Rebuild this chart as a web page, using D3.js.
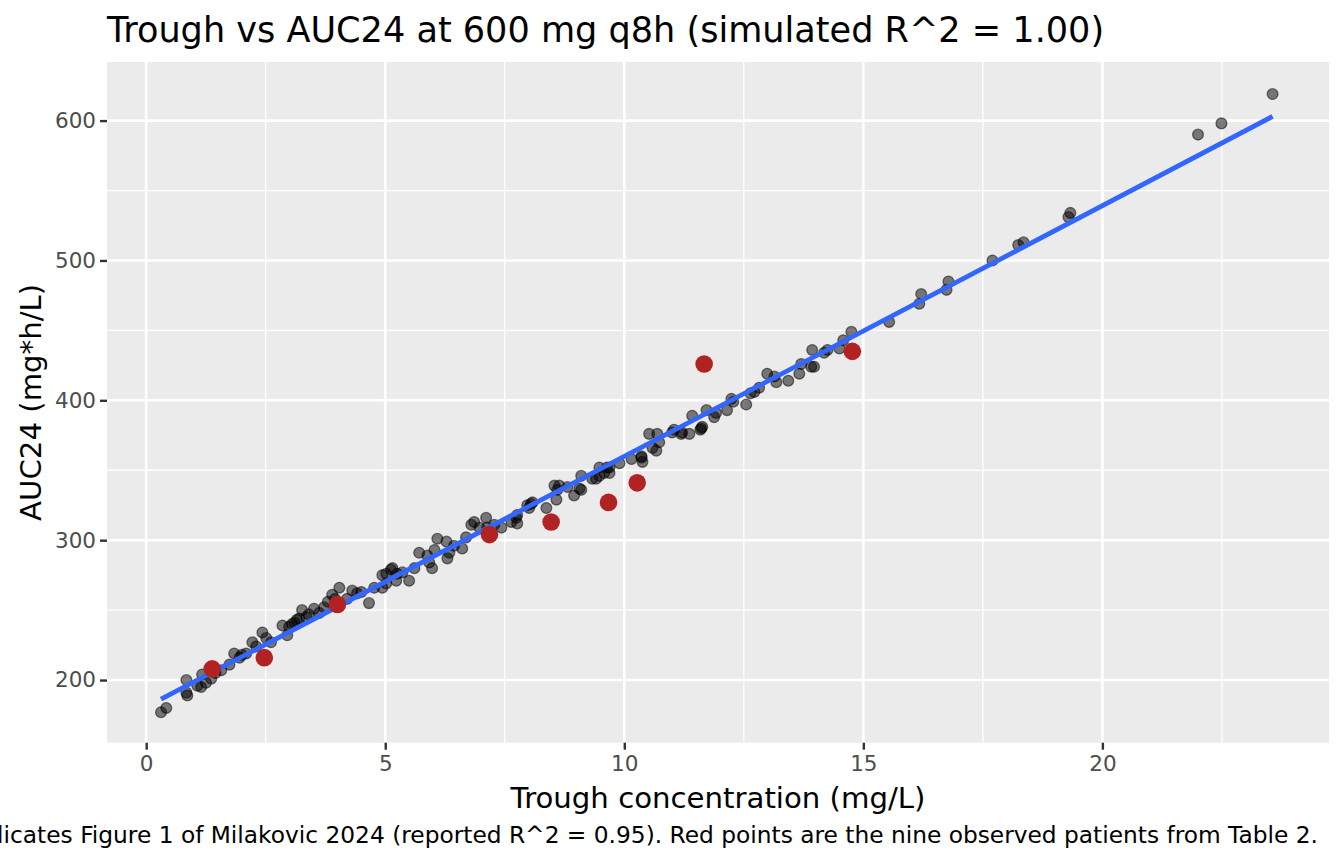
<!DOCTYPE html>
<html>
<head>
<meta charset="utf-8">
<script src="https://cdn.jsdelivr.net/npm/d3@7"></script>
<style>
  body { margin: 0; background: #fff; }
  svg { display: block; font-family: "DejaVu Sans", sans-serif; }
</style>
</head>
<body>
<svg id="chart" width="1344" height="864"></svg>
<script>
// Simulated patients: trough (mg/L) and AUC24 (mg*h/L)
const simTrough = [
  0.31, 0.42, 0.84, 0.84, 0.86, 1.07, 1.15, 1.17, 1.25, 1.36, 1.45, 1.57, 1.74, 1.84, 1.95, 2.0,
  2.09, 2.22, 2.3, 2.43, 2.51, 2.61, 2.85, 2.95, 2.99, 3.05, 3.1, 3.15, 3.2, 3.26, 3.35, 3.4,
  3.51, 3.62, 3.72, 3.8, 3.89, 3.95, 4.04, 4.2, 4.31, 4.41, 4.5, 4.66, 4.77, 4.94, 5.02, 4.94,
  5.02, 5.12, 5.15, 5.25, 5.36, 5.23, 5.5, 5.61, 5.71, 5.88, 5.92, 5.98, 6.03, 6.09, 6.28, 6.3,
  6.34, 6.44, 6.61, 6.69, 6.8, 6.86, 6.97, 7.11, 7.13, 7.28, 7.43, 7.64, 7.74, 7.76, 7.76, 7.97,
  8.05, 8.08, 8.01, 8.37, 8.54, 8.6, 8.64, 8.58, 8.81, 8.95, 9.06, 9.1, 9.1, 9.33, 9.41, 9.48,
  9.48, 9.58, 9.69, 9.69, 9.64, 9.9, 10.15, 10.36, 10.38, 10.36, 10.52, 10.69, 10.67, 10.73, 10.59, 11.0,
  11.04, 11.19, 11.21, 11.36, 11.42, 11.59, 11.61, 11.63, 11.72, 11.88, 11.92, 12.15, 12.24, 12.28, 12.55, 12.64,
  12.72, 12.82, 12.99, 13.14, 13.18, 13.43, 13.66, 13.7, 13.91, 13.97, 13.93, 14.18, 14.25, 14.5, 14.58, 14.75,
  15.54, 16.17, 16.21, 16.74, 16.78, 17.7, 18.24, 18.35, 19.29, 19.33, 22.0, 22.49, 23.56
];
const simAuc = [
  177, 180, 200, 191, 189, 196, 195, 204, 198, 201, 205, 207, 211, 219, 216, 218,
  219, 227, 224, 234, 230, 227, 239, 232, 238, 240, 241, 243, 244, 250, 245, 247,
  251, 248, 252, 256, 261, 258, 266, 258, 264, 262, 263, 255, 266, 275, 276, 266,
  269, 279, 280, 276, 277, 271, 271, 280, 291, 289, 284, 280, 293, 301, 299, 287,
  291, 296, 294, 302, 311, 313, 309, 316, 309, 311, 309, 313, 316, 312, 318, 325,
  326, 327, 323, 323, 339, 336, 339, 329, 338, 332, 337, 346, 336, 344, 344, 346,
  352, 348, 348, 352, 352, 355, 358, 360, 356, 359, 376, 376, 364, 370, 366, 377,
  379, 376, 377, 376, 389, 379, 380, 381, 393, 388, 391, 393, 401, 399, 397, 405,
  406, 409, 419, 417, 413, 414, 419, 426, 424, 424, 436, 434, 436, 437, 443, 449,
  456, 469, 476, 479, 485, 500, 511, 513, 531, 534, 590, 598, 619
];

// The nine observed patients (Table 2)
const obsTrough = [1.38, 2.47, 4.0, 7.18, 8.47, 9.67, 10.27, 11.67, 14.77];
const obsAuc = [208, 216, 254, 304, 313, 327, 341, 426, 435];

const xTicks = [0, 5, 10, 15, 20];
const yTicks = [200, 300, 400, 500, 600];
const xMinor = [2.5, 7.5, 12.5, 17.5, 22.5];
const yMinor = [250, 350, 450, 550];

const titleText = 'Trough vs AUC24 at 600 mg q8h (simulated R^2 = 1.00)';
const captionText = 'Replicates Figure 1 of Milakovic 2024 (reported R^2 = 0.95). Red points are the nine observed patients from Table 2.';

const svg = d3.select('#chart');

// Panel box
const panel = { left: 107, right: 1329, top: 62, bottom: 742.7 };

const x = d3.scaleLinear().domain([-0.82, 24.74]).range([panel.left, panel.right]);
const y = d3.scaleLinear().domain([155.2, 641.9]).range([panel.bottom, panel.top]);

svg.append('rect')
  .attr('x', panel.left)
  .attr('y', panel.top)
  .attr('width', panel.right - panel.left)
  .attr('height', panel.bottom - panel.top)
  .attr('fill', '#ebebeb');

// Grid lines
const grid = svg.append('g');
grid.selectAll('.vminor').data(xMinor).join('line')
  .attr('x1', x).attr('x2', x)
  .attr('y1', panel.top).attr('y2', panel.bottom)
  .attr('stroke', '#fff').attr('stroke-width', 1.3);
grid.selectAll('.hminor').data(yMinor).join('line')
  .attr('y1', y).attr('y2', y)
  .attr('x1', panel.left).attr('x2', panel.right)
  .attr('stroke', '#fff').attr('stroke-width', 1.3);
grid.selectAll('.vmajor').data(xTicks).join('line')
  .attr('x1', x).attr('x2', x)
  .attr('y1', panel.top).attr('y2', panel.bottom)
  .attr('stroke', '#fff').attr('stroke-width', 2.6);
grid.selectAll('.hmajor').data(yTicks).join('line')
  .attr('y1', y).attr('y2', y)
  .attr('x1', panel.left).attr('x2', panel.right)
  .attr('stroke', '#fff').attr('stroke-width', 2.6);

// Axes
const xAxis = svg.append('g')
  .attr('transform', `translate(0,${panel.bottom})`)
  .call(d3.axisBottom(x).tickValues(xTicks).tickSize(7).tickPadding(5).tickFormat(d3.format('d')));
const yAxis = svg.append('g')
  .attr('transform', `translate(${panel.left},0)`)
  .call(d3.axisLeft(y).tickValues(yTicks).tickSize(7).tickPadding(4).tickFormat(d3.format('d')));

[xAxis, yAxis].forEach(a => {
  a.select('.domain').remove();
  a.selectAll('.tick line').attr('stroke', '#333').attr('stroke-width', 2.4);
  a.selectAll('.tick text')
    .attr('fill', '#4d4d4d')
    .style('font-size', '21.5px')
    .style('font-family', '"DejaVu Sans", sans-serif');
});
xAxis.selectAll('.tick text').attr('dy', '0.78em');

// Simulated points
const sim = simTrough.map((t, i) => [t, simAuc[i]]);
svg.append('g').selectAll('circle')
  .data(sim)
  .join('circle')
  .attr('cx', d => x(d[0]))
  .attr('cy', d => y(d[1]))
  .attr('r', 5.4)
  .attr('fill', 'rgba(0,0,0,0.5)')
  .attr('stroke', 'rgba(0,0,0,0.5)')
  .attr('stroke-width', 1.3);

// Least-squares fit through the simulated points
const mx = d3.mean(sim, d => d[0]);
const my = d3.mean(sim, d => d[1]);
const slope = d3.sum(sim, d => (d[0] - mx) * (d[1] - my)) / d3.sum(sim, d => (d[0] - mx) ** 2);
const icpt = my - slope * mx;
const xr = d3.extent(simTrough);
const fit = xr.map(t => [t, icpt + slope * t]);

svg.append('path')
  .datum(fit)
  .attr('d', d3.line().x(d => x(d[0])).y(d => y(d[1])))
  .attr('fill', 'none')
  .attr('stroke', '#3366ff')
  .attr('stroke-width', 4.8);

// Observed points
svg.append('g').selectAll('circle')
  .data(obsTrough.map((t, i) => [t, obsAuc[i]]))
  .join('circle')
  .attr('cx', d => x(d[0]))
  .attr('cy', d => y(d[1]))
  .attr('r', 8.8)
  .attr('fill', '#b22222');

// Titles
svg.append('text')
  .attr('x', panel.left)
  .attr('y', 41.5)
  .style('font-size', '35.1px')
  .attr('fill', '#000')
  .text(titleText);

svg.append('text')
  .attr('x', (panel.left + panel.right) / 2)
  .attr('y', 808)
  .attr('text-anchor', 'middle')
  .style('font-size', '29.2px')
  .attr('fill', '#000')
  .text('Trough concentration (mg/L)');

svg.append('text')
  .attr('transform', `translate(41,${(panel.top + panel.bottom) / 2}) rotate(-90)`)
  .attr('text-anchor', 'middle')
  .style('font-size', '29.2px')
  .attr('fill', '#000')
  .text('AUC24 (mg*h/L)');

svg.append('text')
  .attr('x', 1318)
  .attr('y', 843)
  .attr('text-anchor', 'end')
  .style('font-size', '23.3px')
  .attr('fill', '#000')
  .text(captionText);
</script>
</body>
</html>
